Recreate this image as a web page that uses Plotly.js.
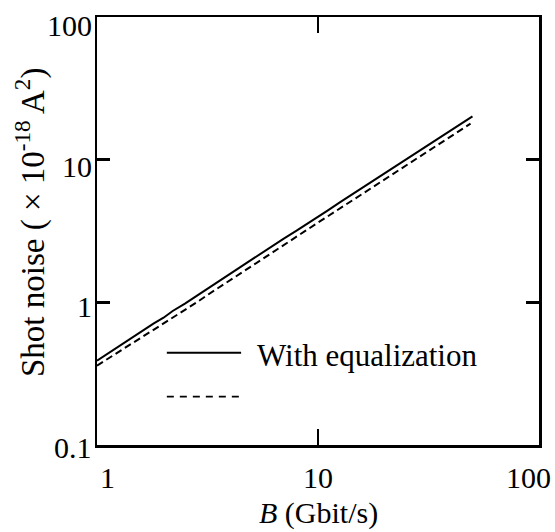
<!DOCTYPE html>
<html>
<head>
<meta charset="utf-8">
<script src="https://cdn.plot.ly/plotly-3.0.1.min.js"></script>
<style>html,body{margin:0;padding:0;background:#fff;}</style>
</head>
<body>
<div id="chart" style="width:555px;height:532px;"></div>
<script>
// Bit rate B (Gbit/s)
const bitRate = [1, 1.2, 1.4, 1.6, 1.8, 2, 2.2, 2.5, 2.8, 3.2, 3.6, 4, 4.5, 5, 5.6, 6.3, 7, 8, 9, 10, 11, 12.5, 14, 16, 18, 20, 22, 25, 28, 32, 36, 40, 45, 50];
// Shot noise (x 1e-18 A^2), with equalization (solid)
const noiseWithEq = [0.39, 0.47, 0.55, 0.63, 0.71, 0.78, 0.87, 0.98, 1.10, 1.27, 1.42, 1.58, 1.79, 1.98, 2.22, 2.50, 2.80, 3.18, 3.57, 3.98, 4.38, 5.0, 5.6, 6.4, 7.2, 8.0, 8.8, 10.0, 11.2, 12.9, 14.5, 16.1, 18.1, 20.1];
// Second series (dashed, unlabelled)
const bitRate2 = [1, 1.2, 1.4, 1.6, 1.8, 2, 2.2, 2.5, 2.8, 3.2, 3.6, 4, 4.5, 5, 5.6, 6.3, 7, 8, 9, 10, 11, 12.5, 14, 16, 18, 20, 22, 25, 28, 32, 36, 40, 45, 49];
const noiseDashed = [0.36, 0.43, 0.50, 0.57, 0.64, 0.71, 0.78, 0.88, 0.99, 1.14, 1.28, 1.43, 1.61, 1.79, 2.01, 2.27, 2.53, 2.89, 3.24, 3.62, 3.98, 4.53, 5.08, 5.82, 6.55, 7.28, 8.0, 9.1, 10.2, 11.7, 13.2, 14.6, 16.5, 17.9];

const xTickVals = [1, 10, 100];
const xTickText = ["1", "10", "100"];
const yTickVals = [0.1, 1, 10, 100];
const yTickText = ["0.1", "1", "10", "100"];
const legendLabels = ["With equalization", ""];
const xTitle = "<i>B</i> (Gbit/s)";
const yTitle = "Shot noise ( × 10<sup>-18</sup> A<sup>2</sup>)";

const FONT = "Liberation Serif, Times New Roman, serif";
const xLabelShift = [10, 0, -11];
const yLabelShift = [-2, -4, -7, -8];

const traces = [
  {x: bitRate, y: noiseWithEq, mode: "lines", type: "scatter",
   line: {color: "#000", width: 2}, showlegend: false},
  {x: bitRate2, y: noiseDashed, mode: "lines", type: "scatter",
   line: {color: "#000", width: 2, dash: "7px,4px"}, showlegend: false}
];

const annotations = [];
xTickVals.forEach((v, i) => annotations.push({
  xref: "x", yref: "paper", x: Math.log10(v), y: 0, yanchor: "top", xanchor: "center",
  yshift: -14, xshift: xLabelShift[i], showarrow: false, text: xTickText[i],
  font: {family: FONT, size: 30, color: "#000"}
}));
yTickVals.forEach((v, i) => annotations.push({
  xref: "paper", yref: "y", x: 0, y: Math.log10(v), xanchor: "right", yanchor: "middle",
  xshift: -3, yshift: yLabelShift[i], showarrow: false, text: yTickText[i],
  font: {family: FONT, size: 30, color: "#000"}
}));
annotations.push({
  xref: "paper", yref: "paper", x: 0.357, y: 0.21, xanchor: "left", yanchor: "middle",
  showarrow: false, text: legendLabels[0], font: {family: FONT, size: 31, color: "#000"}
});
annotations.push({
  xref: "paper", yref: "paper", x: 0.502, y: -0.159, xanchor: "center", yanchor: "middle",
  showarrow: false, text: xTitle, font: {family: FONT, size: 30, color: "#000"}
});
annotations.push({
  xref: "paper", yref: "paper", x: -0.1516, y: 0.521, xanchor: "center", yanchor: "middle",
  textangle: -90, showarrow: false, text: yTitle, font: {family: FONT, size: 33, color: "#000"}
});

const shapes = [
  {type: "line", xref: "paper", yref: "paper", x0: 0.158, x1: 0.326, y0: 0.2157, y1: 0.2157,
   line: {color: "#000", width: 2}},
  {type: "line", xref: "paper", yref: "paper", x0: 0.158, x1: 0.321, y0: 0.113, y1: 0.113,
   line: {color: "#000", width: 1.6, dash: "7px,6px"}}
];

const axisCommon = {
  type: "log", showgrid: false, zeroline: false, showline: true, linecolor: "#000",
  linewidth: 2.5, mirror: "ticks", ticks: "inside", tickcolor: "#000", tickwidth: 2.5,
  showticklabels: false
};

const layout = {
  width: 555, height: 532,
  margin: {l: 97, r: 16, t: 17, b: 87},
  paper_bgcolor: "#fff", plot_bgcolor: "#fff",
  font: {family: FONT, color: "#000", size: 30},
  xaxis: Object.assign({}, axisCommon, {range: [0, 2], tickvals: xTickVals, ticklen: 16}),
  yaxis: Object.assign({}, axisCommon, {range: [-1, 2], tickvals: yTickVals, ticklen: 13}),
  annotations: annotations,
  shapes: shapes,
  showlegend: false
};

Plotly.newPlot("chart", traces, layout, {displayModeBar: false, staticPlot: true});
</script>
</body>
</html>
